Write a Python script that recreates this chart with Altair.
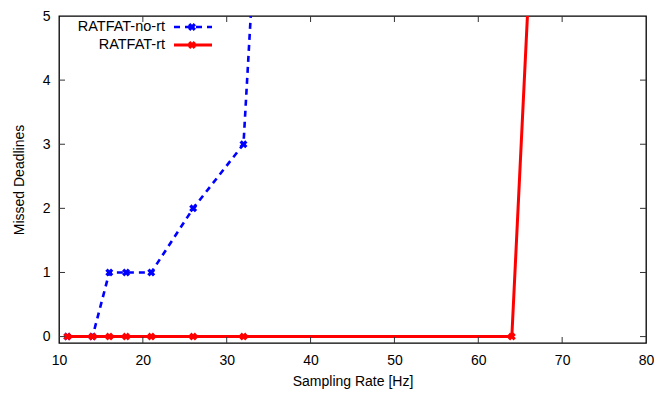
import altair as alt
import pandas as pd

# Data
norT_x = [11, 14, 16, 18, 21, 26, 32, 64]
norT_y = [0, 0, 1, 1, 1, 2, 3, 77]
rt_x = [11, 14, 16, 18, 21, 26, 32, 64, 128]
rt_y = [0, 0, 0, 0, 0, 0, 0, 0, 172]
series_names = ["RATFAT-no-rt", "RATFAT-rt"]
x_ticks = [10, 20, 30, 40, 50, 60, 70, 80]
y_ticks = [0, 1, 2, 3, 4, 5]

W, H = 587, 327
FONT = "Liberation Sans"

blue_df = pd.DataFrame({"x": norT_x, "y": norT_y, "s": series_names[0]})
red_df = pd.DataFrame({"x": rt_x, "y": rt_y, "s": series_names[1]})

xs = alt.Scale(domain=[10, 80], nice=False, zero=False)
ys = alt.Scale(domain=[-0.1, 5], nice=False, zero=False)

xax = alt.Axis(values=x_ticks, title="Sampling Rate [Hz]", grid=False, domain=False,
               ticks=False, labelPadding=10, titlePadding=7, format="d",
               labelFlush=False)
yax = alt.Axis(values=y_ticks, title="Missed Deadlines", grid=False, domain=False,
               ticks=False, labelPadding=9, titlePadding=16, format="d",
               labelFlush=False)

X = alt.X("x:Q", scale=xs, axis=xax)
Y = alt.Y("y:Q", scale=ys, axis=yax)

MS = 65
blue_line = alt.Chart(blue_df).mark_line(
    clip=True, color="#0000ff", strokeWidth=2.6, strokeDash=[6, 5]
).encode(x=X, y=Y)
blue_pts = alt.Chart(blue_df).mark_point(
    clip=True, shape="cross", angle=45, size=MS, filled=True, color="#0000ff", opacity=1
).encode(x=X, y=Y)
red_line = alt.Chart(red_df).mark_line(
    clip=True, color="#ff0000", strokeWidth=3
).encode(x=X, y=Y)
red_pts = alt.Chart(red_df).mark_point(
    clip=True, shape="cross", angle=45, size=MS, filled=True, color="#ff0000", opacity=1
).encode(x=X, y=Y)

# inward ticks on all four sides (gnuplot style)
xt = pd.DataFrame({"x": x_ticks[1:-1]})
yt = pd.DataFrame({"y": y_ticks[:-1]})
tick_color = "#333333"
bottom_ticks = alt.Chart(xt).mark_rule(color=tick_color, strokeWidth=1).encode(
    x=alt.X("x:Q", scale=xs), y=alt.value(H), y2=alt.value(H - 6))
top_ticks = alt.Chart(xt).mark_rule(color=tick_color, strokeWidth=1).encode(
    x=alt.X("x:Q", scale=xs), y=alt.value(0), y2=alt.value(6))
left_ticks = alt.Chart(yt).mark_rule(color=tick_color, strokeWidth=1).encode(
    y=alt.Y("y:Q", scale=ys), x=alt.value(0), x2=alt.value(6))
right_ticks = alt.Chart(yt).mark_rule(color=tick_color, strokeWidth=1).encode(
    y=alt.Y("y:Q", scale=ys), x=alt.value(W), x2=alt.value(W - 6))

# legend (gnuplot style: text right-aligned, sample on the right)
leg_df = pd.DataFrame({"s": series_names})
leg_y = [11, 29]
legend_layers = []
for i, (name, col) in enumerate(zip(series_names, ["#0000ff", "#ff0000"])):
    d = leg_df[leg_df.s == name]
    legend_layers.append(alt.Chart(d).mark_text(
        align="right", baseline="middle", font=FONT, fontSize=14.5, color="black"
    ).encode(text="s:N", x=alt.value(106), y=alt.value(leg_y[i])))
    rule_kw = dict(color=col, strokeWidth=3 if i else 2.6)
    if i == 0:
        rule_kw["strokeDash"] = [6, 5]
    legend_layers.append(alt.Chart(d).mark_rule(**rule_kw).encode(
        x=alt.value(115), x2=alt.value(153), y=alt.value(leg_y[i])))
    legend_layers.append(alt.Chart(d).mark_point(
        shape="cross", angle=45, size=MS, filled=True, color=col, opacity=1
    ).encode(x=alt.value(133), y=alt.value(leg_y[i])))

chart = alt.layer(
    blue_line, blue_pts, red_line, red_pts,
    bottom_ticks, top_ticks, left_ticks, right_ticks,
    *legend_layers
).properties(
    width=W, height=H,
    autosize=alt.AutoSizeParams(type="none"),
    padding={"left": 51, "top": 8, "right": 8, "bottom": 46},
).configure_view(
    stroke="black", strokeWidth=1.3
).configure_axis(
    labelFont=FONT, titleFont=FONT, labelFontSize=14, titleFontSize=14,
    labelColor="black", titleColor="black", titleFontWeight="normal"
)

chart.save("out.html", embed_options={"renderer": "svg", "actions": False})
